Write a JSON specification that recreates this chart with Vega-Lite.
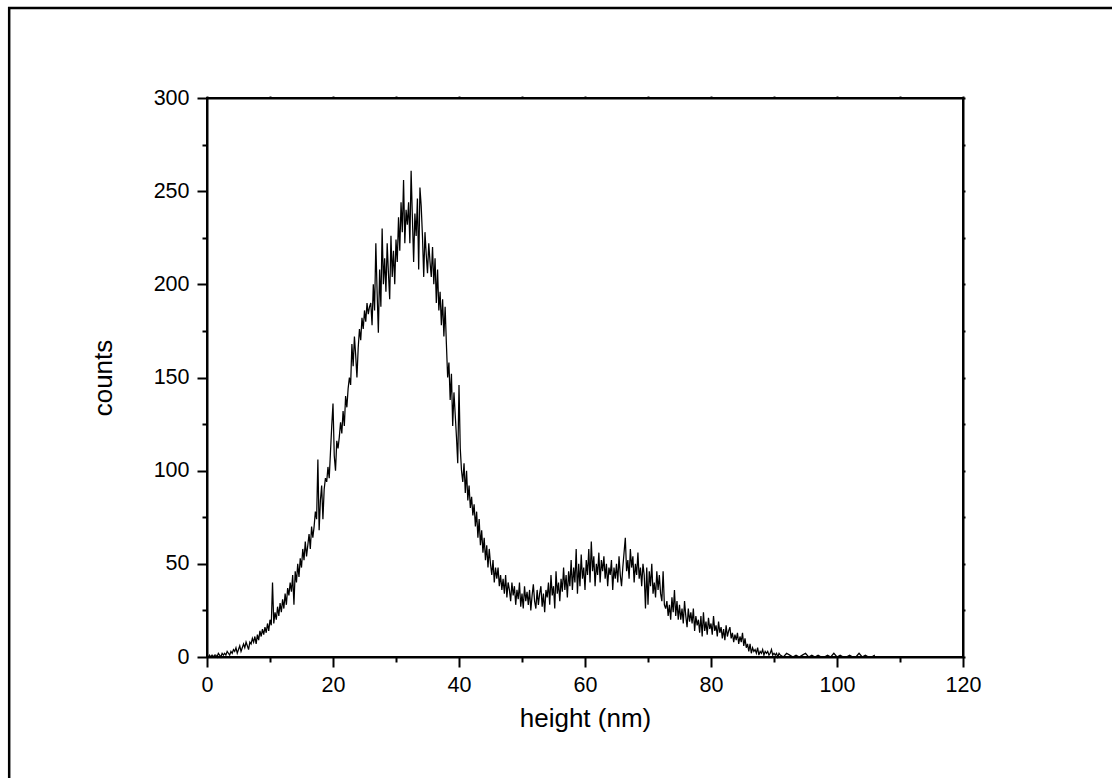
{
"$schema": "https://vega.github.io/schema/vega-lite/v6.json",
"width": 756, "height": 559,
"autosize": {"type": "none"},
"padding": {"left": 207, "top": 98, "right": 149, "bottom": 121},
"background": "white",
"config": {
 "view": {"stroke": "black", "strokeWidth": 2},
 "font": "Liberation Sans",
 "axis": {"labelColor": "black", "titleColor": "black", "domainColor": "black", "tickColor": "black", "labelFont": "Liberation Sans", "titleFont": "Liberation Sans", "titleFontWeight": "normal", "grid": false, "labelFlush": false, "domainWidth": 2, "tickWidth": 2, "labelFontSize": 21.5, "titleFontSize": 26}
},
"datasets": {"hist": [
{"h":0,"c":0},{"h":0.2,"c":0},{"h":0.4,"c":1},{"h":0.6,"c":0},{"h":0.8,"c":1},
{"h":1,"c":0},{"h":1.2,"c":1},{"h":1.4,"c":1},{"h":1.6,"c":0},{"h":1.8,"c":2},
{"h":2,"c":1},{"h":2.2,"c":0},{"h":2.4,"c":2},{"h":2.6,"c":1},{"h":2.8,"c":2},
{"h":3,"c":1},{"h":3.2,"c":3},{"h":3.4,"c":2},{"h":3.6,"c":1},{"h":3.8,"c":3},
{"h":4,"c":2},{"h":4.2,"c":4},{"h":4.4,"c":3},{"h":4.6,"c":5},{"h":4.8,"c":2},
{"h":5,"c":4},{"h":5.2,"c":6},{"h":5.4,"c":3},{"h":5.6,"c":5},{"h":5.8,"c":7},
{"h":6,"c":5},{"h":6.2,"c":8},{"h":6.4,"c":6},{"h":6.6,"c":4},{"h":6.8,"c":8},
{"h":7,"c":7},{"h":7.2,"c":10},{"h":7.4,"c":8},{"h":7.6,"c":11},{"h":7.8,"c":7},
{"h":8,"c":12},{"h":8.2,"c":9},{"h":8.4,"c":14},{"h":8.6,"c":11},{"h":8.8,"c":15},
{"h":9,"c":12},{"h":9.2,"c":16},{"h":9.4,"c":13},{"h":9.6,"c":18},{"h":9.8,"c":14},
{"h":10,"c":20},{"h":10.2,"c":17},{"h":10.4,"c":40},{"h":10.6,"c":18},{"h":10.8,"c":24},
{"h":11,"c":20},{"h":11.2,"c":27},{"h":11.4,"c":22},{"h":11.6,"c":29},{"h":11.8,"c":24},
{"h":12,"c":31},{"h":12.2,"c":26},{"h":12.4,"c":34},{"h":12.6,"c":28},{"h":12.8,"c":37},
{"h":13,"c":33},{"h":13.2,"c":40},{"h":13.4,"c":35},{"h":13.6,"c":44},{"h":13.8,"c":28},
{"h":14,"c":46},{"h":14.2,"c":40},{"h":14.4,"c":50},{"h":14.6,"c":43},{"h":14.8,"c":53},
{"h":15,"c":48},{"h":15.2,"c":58},{"h":15.4,"c":52},{"h":15.6,"c":62},{"h":15.8,"c":54},
{"h":16,"c":60},{"h":16.2,"c":66},{"h":16.4,"c":58},{"h":16.6,"c":70},{"h":16.8,"c":64},
{"h":17,"c":70},{"h":17.2,"c":78},{"h":17.4,"c":74},{"h":17.6,"c":106},{"h":17.8,"c":68},
{"h":18,"c":84},{"h":18.2,"c":92},{"h":18.4,"c":74},{"h":18.6,"c":90},{"h":18.8,"c":96},
{"h":19,"c":94},{"h":19.2,"c":102},{"h":19.4,"c":96},{"h":19.6,"c":110},{"h":19.8,"c":124},
{"h":20,"c":136},{"h":20.2,"c":108},{"h":20.4,"c":100},{"h":20.6,"c":116},{"h":20.8,"c":112},
{"h":21,"c":118},{"h":21.2,"c":126},{"h":21.4,"c":120},{"h":21.6,"c":132},{"h":21.8,"c":124},
{"h":22,"c":140},{"h":22.2,"c":134},{"h":22.4,"c":144},{"h":22.6,"c":150},{"h":22.8,"c":146},
{"h":23,"c":168},{"h":23.2,"c":156},{"h":23.4,"c":172},{"h":23.6,"c":162},{"h":23.8,"c":150},
{"h":24,"c":166},{"h":24.2,"c":176},{"h":24.4,"c":170},{"h":24.6,"c":182},{"h":24.8,"c":176},
{"h":25,"c":186},{"h":25.2,"c":180},{"h":25.4,"c":190},{"h":25.6,"c":184},{"h":25.8,"c":188},
{"h":26,"c":190},{"h":26.2,"c":178},{"h":26.4,"c":200},{"h":26.6,"c":186},{"h":26.8,"c":222},
{"h":27,"c":196},{"h":27.2,"c":174},{"h":27.4,"c":208},{"h":27.6,"c":188},{"h":27.8,"c":230},
{"h":28,"c":200},{"h":28.2,"c":214},{"h":28.4,"c":196},{"h":28.6,"c":222},{"h":28.8,"c":206},
{"h":29,"c":192},{"h":29.2,"c":226},{"h":29.4,"c":204},{"h":29.6,"c":218},{"h":29.8,"c":200},
{"h":30,"c":224},{"h":30.2,"c":212},{"h":30.4,"c":236},{"h":30.6,"c":218},{"h":30.8,"c":244},
{"h":31,"c":228},{"h":31.2,"c":256},{"h":31.4,"c":222},{"h":31.6,"c":240},{"h":31.8,"c":232},
{"h":32,"c":244},{"h":32.2,"c":222},{"h":32.4,"c":261},{"h":32.6,"c":236},{"h":32.8,"c":212},
{"h":33,"c":238},{"h":33.2,"c":226},{"h":33.4,"c":246},{"h":33.6,"c":208},{"h":33.8,"c":252},
{"h":34,"c":242},{"h":34.2,"c":226},{"h":34.4,"c":204},{"h":34.6,"c":228},{"h":34.8,"c":216},
{"h":35,"c":206},{"h":35.2,"c":222},{"h":35.4,"c":212},{"h":35.6,"c":204},{"h":35.8,"c":220},
{"h":36,"c":200},{"h":36.2,"c":214},{"h":36.4,"c":190},{"h":36.6,"c":208},{"h":36.8,"c":186},
{"h":37,"c":196},{"h":37.2,"c":178},{"h":37.4,"c":192},{"h":37.6,"c":172},{"h":37.8,"c":188},
{"h":38,"c":168},{"h":38.2,"c":150},{"h":38.4,"c":158},{"h":38.6,"c":138},{"h":38.8,"c":152},
{"h":39,"c":124},{"h":39.2,"c":142},{"h":39.4,"c":130},{"h":39.6,"c":118},{"h":39.8,"c":104},
{"h":40,"c":146},{"h":40.2,"c":112},{"h":40.4,"c":100},{"h":40.6,"c":94},{"h":40.8,"c":104},
{"h":41,"c":88},{"h":41.2,"c":100},{"h":41.4,"c":84},{"h":41.6,"c":92},{"h":41.8,"c":80},
{"h":42,"c":86},{"h":42.2,"c":76},{"h":42.4,"c":82},{"h":42.6,"c":70},{"h":42.8,"c":78},
{"h":43,"c":64},{"h":43.2,"c":74},{"h":43.4,"c":60},{"h":43.6,"c":68},{"h":43.8,"c":56},
{"h":44,"c":64},{"h":44.2,"c":52},{"h":44.4,"c":60},{"h":44.6,"c":48},{"h":44.8,"c":58},
{"h":45,"c":50},{"h":45.2,"c":44},{"h":45.4,"c":52},{"h":45.6,"c":40},{"h":45.8,"c":48},
{"h":46,"c":42},{"h":46.2,"c":48},{"h":46.4,"c":38},{"h":46.6,"c":44},{"h":46.8,"c":36},
{"h":47,"c":42},{"h":47.2,"c":34},{"h":47.4,"c":44},{"h":47.6,"c":32},{"h":47.8,"c":40},
{"h":48,"c":36},{"h":48.2,"c":30},{"h":48.4,"c":40},{"h":48.6,"c":33},{"h":48.8,"c":38},
{"h":49,"c":28},{"h":49.2,"c":36},{"h":49.4,"c":31},{"h":49.6,"c":40},{"h":49.8,"c":27},
{"h":50,"c":34},{"h":50.2,"c":26},{"h":50.4,"c":38},{"h":50.6,"c":30},{"h":50.8,"c":35},
{"h":51,"c":28},{"h":51.2,"c":36},{"h":51.4,"c":25},{"h":51.6,"c":33},{"h":51.8,"c":39},
{"h":52,"c":30},{"h":52.2,"c":26},{"h":52.4,"c":36},{"h":52.6,"c":28},{"h":52.8,"c":34},
{"h":53,"c":38},{"h":53.2,"c":27},{"h":53.4,"c":34},{"h":53.6,"c":24},{"h":53.8,"c":36},
{"h":54,"c":32},{"h":54.2,"c":40},{"h":54.4,"c":28},{"h":54.6,"c":44},{"h":54.8,"c":33},
{"h":55,"c":38},{"h":55.2,"c":26},{"h":55.4,"c":46},{"h":55.6,"c":34},{"h":55.8,"c":40},
{"h":56,"c":30},{"h":56.2,"c":42},{"h":56.4,"c":35},{"h":56.6,"c":48},{"h":56.8,"c":36},
{"h":57,"c":44},{"h":57.2,"c":32},{"h":57.4,"c":46},{"h":57.6,"c":38},{"h":57.8,"c":52},
{"h":58,"c":36},{"h":58.2,"c":48},{"h":58.4,"c":40},{"h":58.6,"c":58},{"h":58.8,"c":34},
{"h":59,"c":50},{"h":59.2,"c":38},{"h":59.4,"c":55},{"h":59.6,"c":42},{"h":59.8,"c":48},
{"h":60,"c":36},{"h":60.2,"c":52},{"h":60.4,"c":44},{"h":60.6,"c":58},{"h":60.8,"c":40},
{"h":61,"c":62},{"h":61.2,"c":46},{"h":61.4,"c":54},{"h":61.6,"c":38},{"h":61.8,"c":50},
{"h":62,"c":44},{"h":62.2,"c":56},{"h":62.4,"c":40},{"h":62.6,"c":52},{"h":62.8,"c":46},
{"h":63,"c":54},{"h":63.2,"c":42},{"h":63.4,"c":50},{"h":63.6,"c":38},{"h":63.8,"c":48},
{"h":64,"c":44},{"h":64.2,"c":52},{"h":64.4,"c":36},{"h":64.6,"c":48},{"h":64.8,"c":42},
{"h":65,"c":50},{"h":65.2,"c":40},{"h":65.4,"c":54},{"h":65.6,"c":44},{"h":65.8,"c":38},
{"h":66,"c":48},{"h":66.2,"c":56},{"h":66.4,"c":64},{"h":66.6,"c":46},{"h":66.8,"c":52},
{"h":67,"c":42},{"h":67.2,"c":58},{"h":67.4,"c":48},{"h":67.6,"c":54},{"h":67.8,"c":40},
{"h":68,"c":50},{"h":68.2,"c":44},{"h":68.4,"c":56},{"h":68.6,"c":42},{"h":68.8,"c":48},
{"h":69,"c":38},{"h":69.2,"c":50},{"h":69.4,"c":44},{"h":69.6,"c":26},{"h":69.8,"c":48},
{"h":70,"c":28},{"h":70.2,"c":46},{"h":70.4,"c":38},{"h":70.6,"c":50},{"h":70.8,"c":34},
{"h":71,"c":40},{"h":71.2,"c":32},{"h":71.4,"c":46},{"h":71.6,"c":36},{"h":71.8,"c":44},
{"h":72,"c":34},{"h":72.2,"c":30},{"h":72.4,"c":46},{"h":72.6,"c":28},{"h":72.8,"c":26},
{"h":73,"c":30},{"h":73.2,"c":22},{"h":73.4,"c":28},{"h":73.6,"c":20},{"h":73.8,"c":32},
{"h":74,"c":24},{"h":74.2,"c":36},{"h":74.4,"c":22},{"h":74.6,"c":30},{"h":74.8,"c":20},
{"h":75,"c":28},{"h":75.2,"c":20},{"h":75.4,"c":26},{"h":75.6,"c":18},{"h":75.8,"c":30},
{"h":76,"c":22},{"h":76.2,"c":16},{"h":76.4,"c":26},{"h":76.6,"c":19},{"h":76.8,"c":24},
{"h":77,"c":18},{"h":77.2,"c":26},{"h":77.4,"c":14},{"h":77.6,"c":22},{"h":77.8,"c":17},
{"h":78,"c":20},{"h":78.2,"c":13},{"h":78.4,"c":22},{"h":78.6,"c":11},{"h":78.8,"c":24},
{"h":79,"c":14},{"h":79.2,"c":19},{"h":79.4,"c":12},{"h":79.6,"c":21},{"h":79.8,"c":15},
{"h":80,"c":18},{"h":80.2,"c":12},{"h":80.4,"c":22},{"h":80.6,"c":14},{"h":80.8,"c":17},
{"h":81,"c":11},{"h":81.2,"c":19},{"h":81.4,"c":13},{"h":81.6,"c":16},{"h":81.8,"c":10},
{"h":82,"c":15},{"h":82.2,"c":9},{"h":82.4,"c":17},{"h":82.6,"c":11},{"h":82.8,"c":14},
{"h":83,"c":16},{"h":83.2,"c":10},{"h":83.4,"c":13},{"h":83.6,"c":8},{"h":83.8,"c":12},
{"h":84,"c":9},{"h":84.2,"c":13},{"h":84.4,"c":7},{"h":84.6,"c":11},{"h":84.8,"c":8},
{"h":85,"c":13},{"h":85.2,"c":6},{"h":85.4,"c":10},{"h":85.6,"c":5},{"h":85.8,"c":7},
{"h":86,"c":3},{"h":86.2,"c":7},{"h":86.4,"c":2},{"h":86.6,"c":5},{"h":86.8,"c":3},
{"h":87,"c":4},{"h":87.2,"c":2},{"h":87.4,"c":5},{"h":87.6,"c":1},{"h":87.8,"c":3},
{"h":88,"c":2},{"h":88.2,"c":4},{"h":88.4,"c":1},{"h":88.6,"c":3},{"h":88.8,"c":2},
{"h":89,"c":3},{"h":89.2,"c":1},{"h":89.4,"c":2},{"h":89.6,"c":4},{"h":89.8,"c":1},
{"h":90,"c":2},{"h":90.2,"c":1},{"h":90.4,"c":2},{"h":90.6,"c":0},{"h":90.8,"c":2},
{"h":91,"c":1},{"h":91.5,"c":0},{"h":92,"c":2},{"h":92.5,"c":1},{"h":93,"c":0},{"h":93.5,"c":1},
{"h":94,"c":0},{"h":94.5,"c":1},{"h":95,"c":2},{"h":95.5,"c":0},{"h":96,"c":1},{"h":96.5,"c":0},
{"h":97,"c":1},{"h":97.5,"c":0},{"h":98,"c":0},{"h":98.5,"c":1},{"h":99,"c":0},{"h":99.5,"c":2},
{"h":100,"c":0},{"h":100.5,"c":1},{"h":101,"c":0},{"h":101.5,"c":0},{"h":102,"c":1},{"h":102.5,"c":0},
{"h":103,"c":0},{"h":103.5,"c":2},{"h":104,"c":0},{"h":104.5,"c":1},{"h":105,"c":0},{"h":105.5,"c":0},
{"h":106,"c":1}
]},
"layer": [
 {
  "data": {"name": "hist"},
  "mark": {"type": "line", "color": "black", "strokeWidth": 1.25},
  "encoding": {
   "x": {"field": "h", "type": "quantitative", "scale": {"domain": [0, 120]},
    "axis": {"orient": "bottom", "values": [0, 20, 40, 60, 80, 100, 120], "tickSize": 10, "labelPadding": 7, "title": "height (nm)", "titlePadding": 10}},
   "y": {"field": "c", "type": "quantitative", "scale": {"domain": [0, 300]},
    "axis": {"orient": "left", "values": [0, 50, 100, 150, 200, 250, 300], "tickSize": 10, "labelPadding": 8, "title": "counts", "titlePadding": 37}}
  }
 },
 {
  "data": {"name": "hist"},
  "mark": {"type": "point", "opacity": 0},
  "encoding": {
   "x": {"field": "h", "type": "quantitative", "scale": {"domain": [0, 120]},
    "axis": {"orient": "bottom", "values": [10, 30, 50, 70, 90, 110], "tickSize": 5, "labels": false, "domain": false, "title": null}},
   "y": {"field": "c", "type": "quantitative", "scale": {"domain": [0, 300]},
    "axis": {"orient": "left", "values": [25, 75, 125, 175, 225, 275], "tickSize": 5, "labels": false, "domain": false, "title": null}}
  }
 },
 {
  "data": {"name": "hist"},
  "mark": {"type": "point", "opacity": 0},
  "encoding": {
   "x": {"field": "h", "type": "quantitative", "scale": {"domain": [0, 120]},
    "axis": {"orient": "top", "values": [0, 10, 20, 30, 40, 50, 60, 70, 80, 90, 100, 110, 120], "tickSize": 2, "labels": false, "title": null}},
   "y": {"field": "c", "type": "quantitative", "scale": {"domain": [0, 300]},
    "axis": {"orient": "right", "values": [0, 25, 50, 75, 100, 125, 150, 175, 200, 225, 250, 275, 300], "tickSize": 2, "labels": false, "title": null}}
  }
 },
 {
  "data": {"values": [{"frame": "outer"}]},
  "mark": {"type": "rect", "filled": false, "stroke": "black", "strokeWidth": 2.5, "clip": false},
  "encoding": {
   "x": {"datum": -31.4, "type": "quantitative", "scale": {"domain": [0, 120]}, "axis": null},
   "x2": {"datum": 150},
   "y": {"datum": 348.3, "type": "quantitative", "scale": {"domain": [0, 300]}, "axis": null},
   "y2": {"datum": -80}
  }
 }
],
"resolve": {"axis": {"x": "independent", "y": "independent"}}
}
